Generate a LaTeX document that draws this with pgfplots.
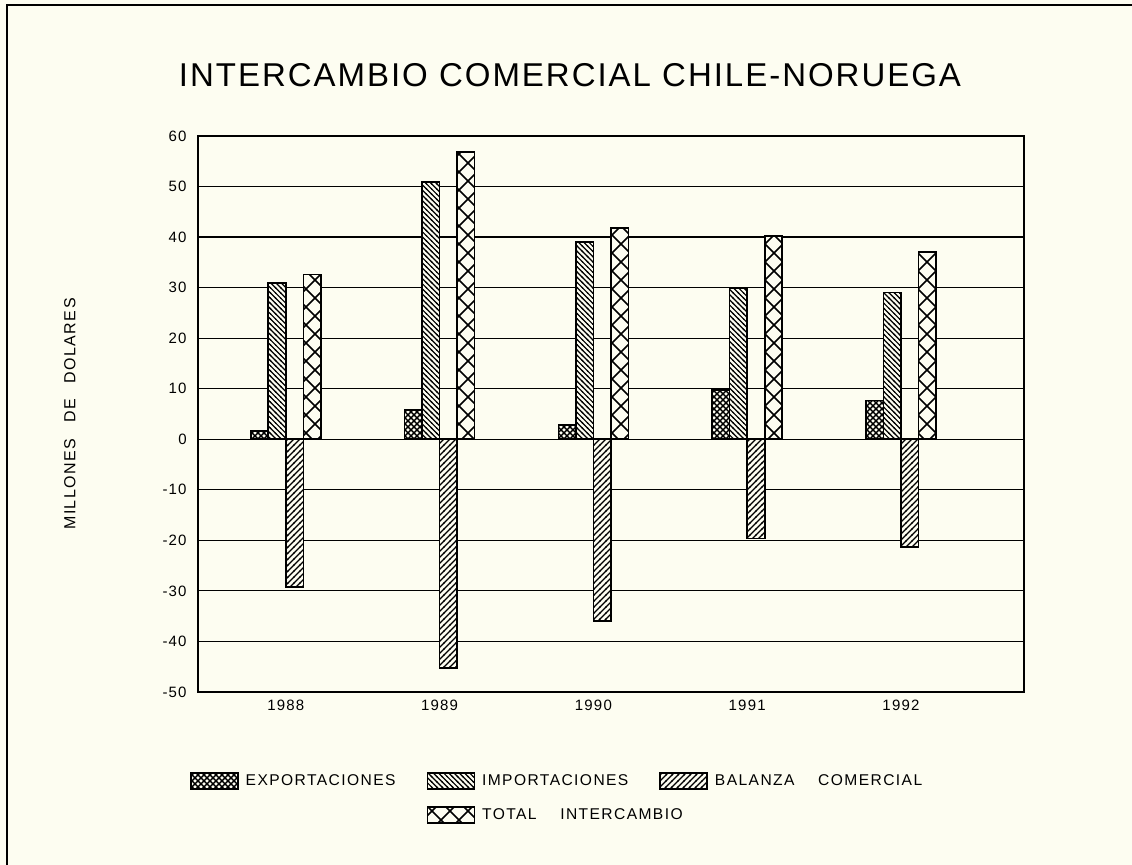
\documentclass[border=0pt]{standalone}
\usepackage{fontspec}
\setmainfont{Liberation Sans}
\newfontfamily\titlefont[LetterSpace=6]{Liberation Sans}
\newfontfamily\lblfont[LetterSpace=8]{Liberation Sans}
\newfontfamily\legfont[LetterSpace=9]{Liberation Sans}
\usepackage{pgfplots}
\pgfplotsset{compat=1.18}
\usetikzlibrary{patterns}
\definecolor{bg}{RGB}{253,253,241}

\pgfdeclarepatternformonly{bigx}{\pgfqpoint{-1pt}{-1pt}}{\pgfqpoint{10pt}{10pt}}{\pgfqpoint{9pt}{9pt}}{%
  \pgfsetlinewidth{0.8pt}%
  \pgfpathmoveto{\pgfqpoint{0pt}{0pt}}\pgfpathlineto{\pgfqpoint{9pt}{9pt}}%
  \pgfpathmoveto{\pgfqpoint{0pt}{9pt}}\pgfpathlineto{\pgfqpoint{9pt}{0pt}}%
  \pgfusepath{stroke}}
\pgfdeclarepatternformonly{smallx}{\pgfqpoint{-1pt}{-1pt}}{\pgfqpoint{4pt}{4pt}}{\pgfqpoint{3pt}{3pt}}{%
  \pgfsetlinewidth{0.7pt}%
  \pgfpathmoveto{\pgfqpoint{0pt}{0pt}}\pgfpathlineto{\pgfqpoint{3pt}{3pt}}%
  \pgfpathmoveto{\pgfqpoint{0pt}{3pt}}\pgfpathlineto{\pgfqpoint{3pt}{0pt}}%
  \pgfusepath{stroke}}
\pgfdeclarepatternformonly{nwl}{\pgfqpoint{-1pt}{-1pt}}{\pgfqpoint{4pt}{4pt}}{\pgfqpoint{2.6pt}{2.6pt}}{%
  \pgfsetlinewidth{0.6pt}%
  \pgfpathmoveto{\pgfqpoint{-0.3pt}{2.9pt}}\pgfpathlineto{\pgfqpoint{2.9pt}{-0.3pt}}%
  \pgfusepath{stroke}}
\pgfdeclarepatternformonly{nel}{\pgfqpoint{-1pt}{-1pt}}{\pgfqpoint{4pt}{4pt}}{\pgfqpoint{3pt}{3pt}}{%
  \pgfsetlinewidth{0.6pt}%
  \pgfpathmoveto{\pgfqpoint{-0.3pt}{-0.3pt}}\pgfpathlineto{\pgfqpoint{3.3pt}{3.3pt}}%
  \pgfusepath{stroke}}

\pgfplotsset{boxlegend/.style={legend image code/.code={\draw[##1] (0pt,-4pt) rectangle (23.5pt,4pt);}}}

\pgfplotstableread{
x exp imp bal tot
0 1.6 30.9 -29.2 32.6
1 5.8 50.9 -45.3 56.8
2 2.8 39.0 -36.0 41.8
3 9.8 29.8 -19.6 40.2
4 7.7 29.0 -21.3 37.0
}\datatable

\begin{document}
\begin{tikzpicture}
\useasboundingbox (0,0) rectangle (566pt,432.5pt);
\fill[bg] (0,0) rectangle (566pt,432.5pt);
\draw[line width=0.8pt] (3.5pt,0pt) -- (3.5pt,430pt) -- (566pt,430pt);
\node[font=\titlefont\fontsize{16.5}{19}\selectfont] at (285pt,395pt) {INTERCAMBIO COMERCIAL CHILE-NORUEGA};
\begin{axis}[
  at={(99pt,86.5pt)}, anchor=south west,
  scale only axis, width=413pt, height=278pt,
  xmin=-0.571, xmax=4.8, ymin=-50, ymax=60,
  ytick={-50,-40,...,60},
  xtick={0,1,2,3,4}, xticklabels={1988,1989,1990,1991,1992},
  major tick length=0pt,
  ymajorgrids, grid style={black, line width=0.6pt},
  axis line style={line width=0.8pt},
  /pgf/number format/assume math mode=true,
  tick label style={font=\lblfont\fontsize{7.5}{9}\selectfont},
  yticklabel style={inner sep=0pt, xshift=-5.5pt},
  xticklabel style={inner sep=0pt, yshift=-4pt},
  ylabel={MILLONES\hspace{5pt} DE\hspace{5pt} DOLARES},
  ylabel style={at={(axis description cs:-0.155,0.5)}, anchor=center, font=\legfont\fontsize{8}{9}\selectfont},
  ybar, bar width=0.114,
  legend columns=3,
  legend cell align=left,
  legend style={draw=none, fill=none, inner sep=0pt, anchor=north west,
    at={(axis description cs:-0.01,-0.14)},
    font=\legfont\fontsize{7.8}{9}\selectfont,
    /tikz/every even column/.append style={column sep=13.5pt},
    row sep=6pt},
  every axis plot/.append style={draw=black, line width=0.8pt, fill=bg},
]
\addplot[bar shift=-0.171, postaction={pattern=smallx}, boxlegend] table[x=x,y=exp] {\datatable};
\addlegendentry{\hspace{1.5pt}EXPORTACIONES}
\addplot[bar shift=-0.057, postaction={pattern=nwl}, boxlegend] table[x=x,y=imp] {\datatable};
\addlegendentry{\hspace{1.5pt}IMPORTACIONES}
\addplot[bar shift=0.057, postaction={pattern=nel}, boxlegend] table[x=x,y=bal] {\datatable};
\addlegendentry{\hspace{1.5pt}BALANZA\hspace{9pt} COMERCIAL}
\addlegendimage{empty legend}
\addlegendentry{}
\addplot[bar shift=0.171, postaction={pattern=bigx}, boxlegend] table[x=x,y=tot] {\datatable};
\addlegendentry{\makebox[0pt][l]{\hspace{1.5pt}TOTAL\hspace{9pt} INTERCAMBIO}}
\end{axis}
\end{tikzpicture}
\end{document}
